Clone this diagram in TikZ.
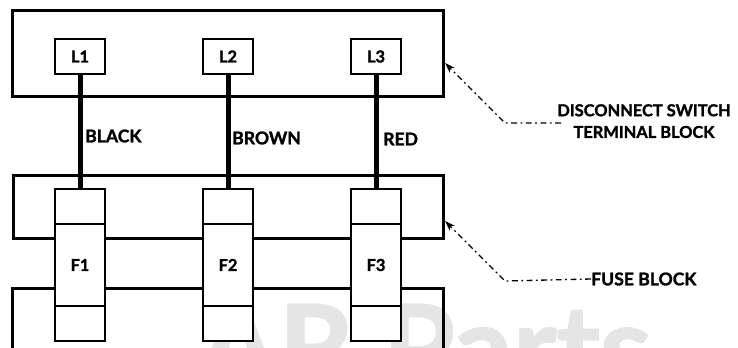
\documentclass[tikz,border=0pt]{standalone}
\usepackage{fontspec}
\setmainfont{Lato}[BoldFeatures={FakeBold=1.5}]
\usetikzlibrary{arrows.meta}
\tikzset{
	blockline/.style={line width=0.9mm},
	wire/.style={line width=1.5mm},
	termbox/.style={draw, line width=0.55mm, fill=white, minimum width=1.5cm, minimum height=1.05cm, inner sep=0pt, font=\bfseries\fontsize{14}{16}\selectfont},
	fusecap/.style={termbox, minimum height=1.05cm},
	fusebody/.style={termbox, minimum height=2.46cm},
	lbl/.style={inner sep=0pt, font=\bfseries\fontsize{15}{17}\selectfont},
	leader/.style={line width=0.4mm, dash pattern=on 5pt off 3pt on 1.5pt off 3pt, -{Stealth[length=3mm,width=2mm]}},
}
\begin{document}
\begin{tikzpicture}[x=0.03cm, y=-0.03cm]
	%%%%% START %%%%%
	\useasboundingbox (0, 0) rectangle (738, 348);
	\clip (0, 0) rectangle (738, 348);

	\node[anchor=base west, inner sep=0pt, text=black!10, font=\fontsize{100}{104}\selectfont] (mark) at (197, 389) {\textbf{AR Parts}};

	% blocks
	\draw[blockline] (12, 11) rectangle (443, 97);
	\draw[blockline] (13, 176) rectangle (443, 239);
	\draw[blockline] (12, 348) -- (12, 288) -- (443, 288) -- (443, 348);

	% terminals
	\node[termbox] (L1) at (80, 56.5) {L1};
	\node[termbox] (L2) at (228, 56.5) {L2};
	\node[termbox] (L3) at (376, 56.5) {L3};

	% fuses
	\node[fusecap] (topA) at (80, 206.5) {};
	\node[fusebody] (F1) at (80, 265) {F1};
	\node[fusecap] (botA) at (80, 323.5) {};
	\node[fusecap] (topB) at (228, 206.5) {};
	\node[fusebody] (F2) at (228, 265) {F2};
	\node[fusecap] (botB) at (228, 323.5) {};
	\node[fusecap] (topC) at (376, 206.5) {};
	\node[fusebody] (F3) at (376, 265) {F3};
	\node[fusecap] (botC) at (376, 323.5) {};

	% wires
	\draw[wire] (L1) -- (topA);
	\draw[wire] (L2) -- (topB);
	\draw[wire] (L3) -- (topC);
	\node[lbl, anchor=west] (black) at (85, 136) {BLACK};
	\node[lbl, anchor=west] (brown) at (232, 138) {BROWN};
	\node[lbl, anchor=west] (red) at (383, 139) {RED};

	% callouts
	\node[lbl, align=center, anchor=north, font=\bfseries\fontsize{14}{18.5}\selectfont] (switch) at (644, 104) {DISCONNECT SWITCH\\TERMINAL BLOCK};
	\node[lbl, anchor=west] (fuse) at (591, 279) {FUSE BLOCK};
	\coordinate (tipA) at (445, 63);
	\coordinate (tipB) at (445, 221);
	\coordinate (kneeA) at (505, 123);
	\coordinate (kneeB) at (505, 281);
	\coordinate (endA) at (561, 123);
	\draw[leader] (endA) -- (kneeA) -- (tipA);
	\draw[leader] (fuse.west) -- (kneeB) -- (tipB);
	%%%%% END %%%%%
\end{tikzpicture}
\end{document}
